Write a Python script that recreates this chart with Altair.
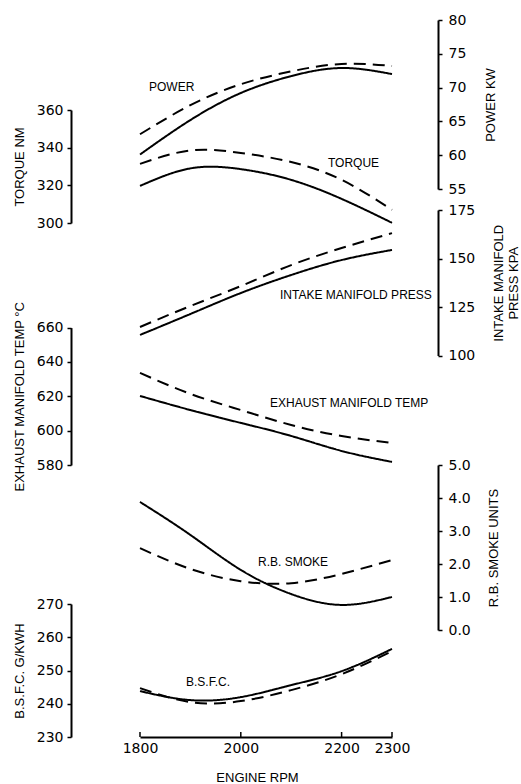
import altair as alt
import pandas as pd

# ---------------- data ----------------
rpm = [1800, 1900, 2000, 2100, 2200, 2300]

power_solid = [60.1, 65.2, 69.2, 71.7, 72.9, 72.0]
power_dashed = [63.1, 67.4, 70.5, 72.4, 73.5, 73.2]

torque_solid = [319.7, 329.0, 328.6, 322.9, 312.8, 300.1]
torque_dashed = [331.4, 338.5, 337.2, 332.4, 322.9, 307.0]

intake_solid = [110.6, 121.4, 132.2, 141.5, 149.2, 154.4]
intake_dashed = [114.7, 125.5, 135.8, 146.6, 155.4, 163.1]

exhaust_solid = [620.2, 612.0, 604.5, 596.9, 588.2, 581.8]
exhaust_dashed = [633.6, 621.4, 612.0, 603.3, 596.9, 592.8]

smoke_solid = [3.88, 2.88, 1.82, 1.09, 0.76, 1.00]
smoke_dashed = [2.48, 1.85, 1.48, 1.42, 1.70, 2.12]

bsfc_solid = [243.8, 241.1, 242.0, 245.6, 249.8, 256.5]
bsfc_dashed = [244.7, 240.5, 240.8, 244.1, 248.9, 255.8]

x_ticks = [1800, 2000, 2200, 2300]
power_ticks = [55, 60, 65, 70, 75, 80]
torque_ticks = [300, 320, 340, 360]
intake_ticks = [100, 125, 150, 175]
exhaust_ticks = [580, 600, 620, 640, 660]
smoke_ticks = [0, 1, 2, 3, 4, 5]
bsfc_ticks = [230, 240, 250, 260, 270]

curve_labels = ["POWER", "TORQUE", "INTAKE MANIFOLD PRESS",
                "EXHAUST MANIFOLD TEMP", "R.B. SMOKE", "B.S.F.C."]

# ---------------- layout ----------------
W, H = 367, 717
FONT_NUM = "DejaVu Sans"
FONT_TXT = "Liberation Sans"

label_px = [78, 257, 209, 199, 187, 115]
label_py = [67, 143, 275, 383, 542, 662]


def long(solid, dashed):
    return pd.DataFrame({
        "rpm": rpm * 2,
        "value": solid + dashed,
        "run": ["solid"] * len(rpm) + ["dashed"] * len(rpm),
    })


x_enc = alt.X(
    "rpm:Q",
    scale=alt.Scale(domain=[1800, 2300], range=[69, 321], nice=False, zero=False),
    axis=alt.Axis(values=x_ticks, ticks=False, title="ENGINE RPM", grid=False, format="d",
                  labelFont=FONT_NUM, labelFontSize=14, labelPadding=4,
                  labelFlush=False, labelOverlap=False, labelColor="black",
                  domainColor="black", domainWidth=2,
                  titleFont=FONT_TXT, titleFontSize=13, titleFontWeight="normal",
                  titleColor="black", titleX=186, titleY=40, titleBaseline="middle"),
)

dash_enc = alt.StrokeDash(
    "run:N",
    scale=alt.Scale(domain=["solid", "dashed"], range=[[1, 0], [12, 7]]),
    legend=None,
)


def yaxis(orient, values, title, title_x, fmt=None):
    kw = dict(orient=orient, values=values, title=title, titleAngle=270,
              titleX=title_x, titleBaseline="middle", titleFont=FONT_TXT,
              titleFontSize=13, titleFontWeight="normal", titleColor="black",
              labelFont=FONT_NUM, labelFontSize=14, labelColor="black",
              labelPadding=4 if orient == "left" else 6,
              labelFlush=False, labelOverlap=False,
              tickSize=4, tickWidth=1.5, tickColor="black",
              domainWidth=2, domainColor="black", grid=False)
    if fmt:
        kw["format"] = fmt
    return alt.Axis(**kw)


def panel(solid, dashed, domain, rng, axis):
    return alt.Chart(long(solid, dashed)).mark_line(
        color="black", strokeWidth=2, interpolate="natural"
    ).encode(
        x=x_enc,
        y=alt.Y("value:Q", scale=alt.Scale(domain=domain, range=rng, nice=False, zero=False),
                axis=axis),
        strokeDash=dash_enc,
    )


power = panel(power_solid, power_dashed, [55, 80], [169, 0],
              yaxis("right", power_ticks, "POWER KW", 52))
torque = panel(torque_solid, torque_dashed, [300, 360], [203, 90],
               yaxis("left", torque_ticks, "TORQUE NM", -52))
intake = panel(intake_solid, intake_dashed, [100, 175], [335.5, 190],
               yaxis("right", intake_ticks, ["INTAKE MANIFOLD", "PRESS KPA"], 60))
exhaust = panel(exhaust_solid, exhaust_dashed, [580, 660], [445, 307.6],
                yaxis("left", exhaust_ticks, "EXHAUST MANIFOLD TEMP °C", -52))
smoke = panel(smoke_solid, smoke_dashed, [0, 5], [610, 445],
              yaxis("right", smoke_ticks, "R.B. SMOKE UNITS", 55, ".1f"))
bsfc = panel(bsfc_solid, bsfc_dashed, [230, 270], [717, 584],
             yaxis("left", bsfc_ticks, "B.S.F.C. G/KWH", -52))

# x-axis ticks pointing up into the plot
xt = alt.Chart(pd.DataFrame({"rpm": x_ticks})).mark_rule(
    color="black", strokeWidth=1.5
).encode(x=x_enc, y=alt.value(H - 5), y2=alt.value(H))

labels = alt.Chart(pd.DataFrame({"t": curve_labels, "px": label_px, "py": label_py})).mark_text(
    align="left", baseline="middle", font=FONT_TXT, fontSize=12, color="black"
).encode(
    x=alt.X("px:Q", scale=None, axis=None),
    y=alt.Y("py:Q", scale=None, axis=None),
    text="t:N",
)

chart = alt.layer(power, torque, intake, exhaust, smoke, bsfc, xt, labels).resolve_scale(
    y="independent"
).properties(
    width=W, height=H,
    padding={"left": 71, "top": 20, "right": 83, "bottom": 47},
    autosize=alt.AutoSizeParams(type="none"),
    background="white",
).configure_view(stroke=None)

chart.save("out.html", embed_options={"renderer": "svg", "actions": False})
